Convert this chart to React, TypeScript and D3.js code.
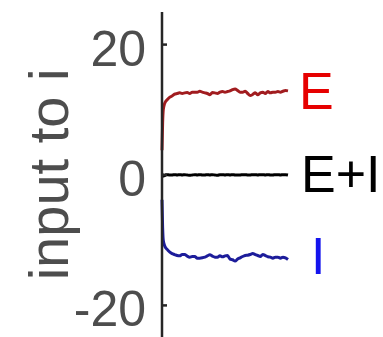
import React from "react";
import * as d3 from "d3";

const time = [0, 0.5, 1, 2, 3, 4, 6, 8, 10, 12, 14, 16, 18, 20, 22, 24, 26, 28, 30, 32, 34, 36, 38, 40, 42, 44, 46, 48, 50, 52, 54, 56, 58, 60, 62, 64, 66, 68, 70, 72, 74, 76, 78, 80, 82, 84, 86, 88, 90, 92, 94, 96, 98, 100];

const excit = [3.8, 8, 10, 10.9, 11.3, 11.5, 11.9, 12.1, 12.4, 12.5, 12.6, 12.5, 12.6, 12.65, 12.5, 12.7, 12.7, 12.7, 12.85, 12.7, 12.6, 12.5, 12.3, 12.65, 12.6, 12.5, 12.7, 12.8, 12.7, 12.8, 12.9, 13.1, 13.2, 12.95, 12.7, 12.7, 12.85, 12.5, 12.2, 12.35, 12.6, 12.3, 12.6, 12.7, 12.5, 12.8, 12.6, 12.7, 12.7, 12.8, 12.7, 12.85, 12.95, 12.9];

const inhib = [-3.8, -8, -10, -10.8, -11.2, -11.4, -11.8, -12.05, -12.2, -12.35, -12.4, -12.2, -12.2, -12.45, -12.6, -12.5, -12.5, -12.75, -12.75, -12.7, -12.6, -12.4, -12.25, -12.45, -12.6, -12.6, -12.4, -12.55, -12.4, -12.35, -12.9, -13.0, -13.2, -12.9, -12.7, -12.5, -12.35, -12.3, -12.2, -12.05, -12.2, -12.35, -12.5, -12.2, -12.35, -12.55, -12.6, -12.75, -12.6, -12.6, -12.75, -12.6, -12.7, -12.95];

const total = [-0.3, -0.2, 0, -0.1, 0.05, 0.05, 0, 0, 0.05, 0, 0.05, 0, 0.05, 0, -0.05, 0, 0.05, 0, 0.05, 0, 0, 0.05, 0, 0.05, 0, -0.05, 0.05, 0.05, 0, 0.05, 0, 0.05, 0, 0, 0, 0.05, 0.05, 0, 0, 0.05, 0.05, 0, 0.05, 0.05, 0, 0.05, 0, 0, 0.05, 0.05, 0, 0.05, 0.05, 0];

const yTicks = [-20, 0, 20];

const seriesLabels = ["E", "E+I", "I"];

const W = 383;
const H = 337;

export default function App() {
  const x = d3.scaleLinear().domain([0, 100]).range([162, 288]);
  const y = d3.scaleLinear().domain([-25, 25]).range([338, 12]);

  const line = (vals: number[]) =>
    d3
      .line<number>()
      .x((_, i) => x(time[i]))
      .y((d) => y(d))
      .curve(d3.curveMonotoneX)(vals) as string;

  const axisX = x(0);
  const font = "'Liberation Sans', Arial, Helvetica, sans-serif";

  return (
    <svg
      width={W}
      height={H}
      style={{ position: "absolute", left: 0, top: 0, background: "#fff" }}
    >
      <path d={line(excit)} fill="none" stroke="#a11c1f" strokeWidth={3} strokeLinejoin="round" />
      <path d={line(inhib)} fill="none" stroke="#1c1c9a" strokeWidth={3} strokeLinejoin="round" />
      <path d={line(total)} fill="none" stroke="#000" strokeWidth={3} strokeLinejoin="round" />

      <line x1={axisX} x2={axisX} y1={y(25)} y2={y(-25)} stroke="#262626" strokeWidth={2.5} />
      {yTicks.map((t) => (
        <g key={t}>
          <line x1={axisX} x2={axisX + 5} y1={y(t)} y2={y(t)} stroke="#262626" strokeWidth={2.5} />
          <text
            x={146}
            y={y(t) + 21}
            textAnchor="end"
            fontFamily={font}
            fontSize={50}
            fill="#4d4d4d"
          >
            {t}
          </text>
        </g>
      ))}

      <text
        transform={`translate(68, 174.5) rotate(-90)`}
        textAnchor="middle"
        fontFamily={font}
        fontSize={56}
        fill="#4d4d4d"
      >
        input to i
      </text>

      <text x={299} y={109} fontFamily={font} fontSize={52} fill="#e60000">
        {seriesLabels[0]}
      </text>
      <text x={301} y={191.5} fontFamily={font} fontSize={52} fill="#000">
        {seriesLabels[1]}
      </text>
      <text x={311} y={274} fontFamily={font} fontSize={52} fill="#1414ee">
        {seriesLabels[2]}
      </text>
    </svg>
  );
}
